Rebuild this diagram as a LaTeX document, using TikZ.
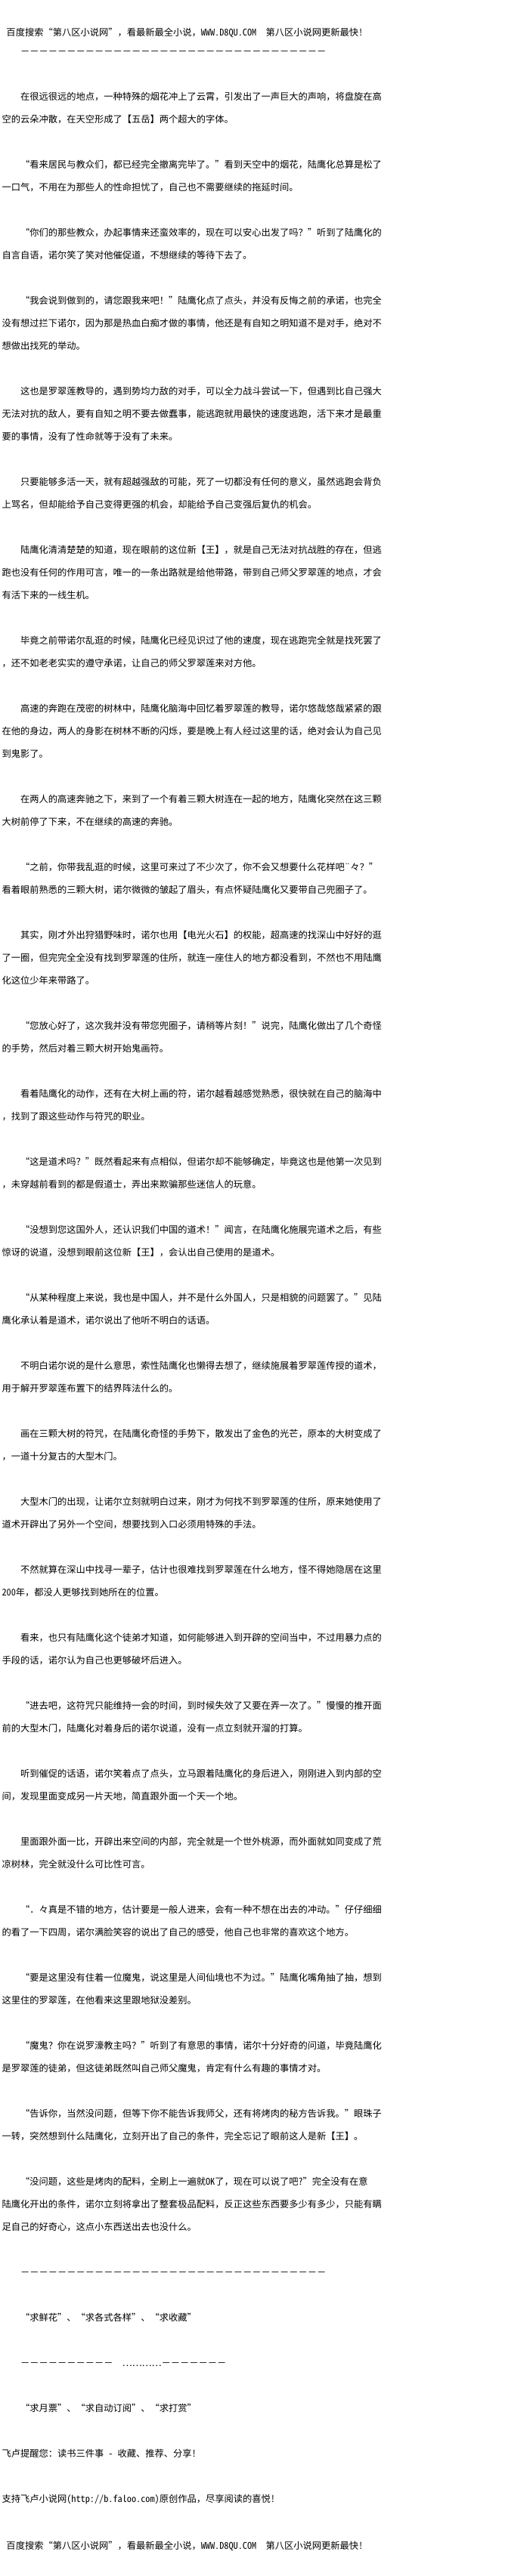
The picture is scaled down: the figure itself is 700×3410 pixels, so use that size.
\documentclass[tikz,border=0pt]{standalone}
\usepackage{fontspec}
\setmainfont{Noto Sans CJK SC}[RawFeature=+fwid]
\newfontfamily\hwfont{Noto Sans CJK SC}[RawFeature=+hwid]
\newcommand{\hw}[1]{{\hwfont #1}}
\tikzset{every picture/.style={line width=0.75pt}}
\tikzset{txt/.style={anchor=base west, inner sep=0pt, font=\fontsize{9.19}{9.19}\selectfont}}

\begin{document}
\begin{tikzpicture}[x=0.75pt,y=0.75pt,yscale=-1,xscale=1]
	%set diagram to 700 x 3410
	\useasboundingbox (0,0) rectangle (700,3410);
	\fill [white] (0,0) rectangle (700,3410);

	% Text Node
	\draw (8,47.7) node [txt] (hdtop) {百度搜索“第八区小说网”，看最新最全小说，\hw{WWW.D8QU.COM}　第八区小说网更新最快\hw{!}};
	% Text Node
	\draw (2,72) node [txt] (dshtop) {　　－－－－－－－－－－－－－－－－－－－－－－－－－－－－－－－－－};

	% Text Node
	\draw (2,132.7) node [txt] (p1a) {　　在很远很远的地点，一种特殊的烟花冲上了云霄，引发出了一声巨大的声响，将盘旋在高};
	% Text Node
	\draw (2,162.7) node [txt] (p1b) {空的云朵冲散，在天空形成了【五岳】两个超大的字体。};
	% Text Node
	\draw (2,222.7) node [txt] (p2a) {　　“看来居民与教众们，都已经完全撤离完毕了。”看到天空中的烟花，陆鹰化总算是松了};
	% Text Node
	\draw (2,252.7) node [txt] (p2b) {一口气，不用在为那些人的性命担忧了，自己也不需要继续的拖延时间。};
	% Text Node
	\draw (2,312.7) node [txt] (p3a) {　　“你们的那些教众，办起事情来还蛮效率的，现在可以安心出发了吗？”听到了陆鹰化的};
	% Text Node
	\draw (2,342.7) node [txt] (p3b) {自言自语，诺尔笑了笑对他催促道，不想继续的等待下去了。};
	% Text Node
	\draw (2,402.7) node [txt] (p4a) {　　“我会说到做到的，请您跟我来吧！”陆鹰化点了点头，并没有反悔之前的承诺，也完全};
	% Text Node
	\draw (2,432.7) node [txt] (p4b) {没有想过拦下诺尔，因为那是热血白痴才做的事情，他还是有自知之明知道不是对手，绝对不};
	% Text Node
	\draw (2,462.7) node [txt] (p4c) {想做出找死的举动。};
	% Text Node
	\draw (2,522.7) node [txt] (p5a) {　　这也是罗翠莲教导的，遇到势均力敌的对手，可以全力战斗尝试一下，但遇到比自己强大};
	% Text Node
	\draw (2,552.7) node [txt] (p5b) {无法对抗的敌人，要有自知之明不要去做蠢事，能逃跑就用最快的速度逃跑，活下来才是最重};
	% Text Node
	\draw (2,582.7) node [txt] (p5c) {要的事情，没有了性命就等于没有了未来。};
	% Text Node
	\draw (2,642.7) node [txt] (p6a) {　　只要能够多活一天，就有超越强敌的可能，死了一切都没有任何的意义，虽然逃跑会背负};
	% Text Node
	\draw (2,672.7) node [txt] (p6b) {上骂名，但却能给予自己变得更强的机会，却能给予自己变强后复仇的机会。};
	% Text Node
	\draw (2,732.7) node [txt] (p7a) {　　陆鹰化清清楚楚的知道，现在眼前的这位新【王】，就是自己无法对抗战胜的存在，但逃};
	% Text Node
	\draw (2,762.7) node [txt] (p7b) {跑也没有任何的作用可言，唯一的一条出路就是给他带路，带到自己师父罗翠莲的地点，才会};
	% Text Node
	\draw (2,792.7) node [txt] (p7c) {有活下来的一线生机。};
	% Text Node
	\draw (2,852.7) node [txt] (p8a) {　　毕竟之前带诺尔乱逛的时候，陆鹰化已经见识过了他的速度，现在逃跑完全就是找死罢了};
	% Text Node
	\draw (2,882.7) node [txt] (p8b) {，还不如老老实实的遵守承诺，让自己的师父罗翠莲来对方他。};
	% Text Node
	\draw (2,942.7) node [txt] (p9a) {　　高速的奔跑在茂密的树林中，陆鹰化脑海中回忆着罗翠莲的教导，诺尔悠哉悠哉紧紧的跟};
	% Text Node
	\draw (2,972.7) node [txt] (p9b) {在他的身边，两人的身影在树林不断的闪烁，要是晚上有人经过这里的话，绝对会认为自己见};
	% Text Node
	\draw (2,1002.7) node [txt] (p9c) {到鬼影了。};
	% Text Node
	\draw (2,1062.7) node [txt] (p10a) {　　在两人的高速奔驰之下，来到了一个有着三颗大树连在一起的地方，陆鹰化突然在这三颗};
	% Text Node
	\draw (2,1092.7) node [txt] (p10b) {大树前停了下来，不在继续的高速的奔驰。};
	% Text Node
	\draw (2,1152.7) node [txt] (p11a) {　　“之前，你带我乱逛的时候，这里可来过了不少次了，你不会又想要什么花样吧¨々？”};
	% Text Node
	\draw (2,1182.7) node [txt] (p11b) {看着眼前熟悉的三颗大树，诺尔微微的皱起了眉头，有点怀疑陆鹰化又要带自己兜圈子了。};
	% Text Node
	\draw (2,1242.7) node [txt] (p12a) {　　其实，刚才外出狩猎野味时，诺尔也用【电光火石】的权能，超高速的找深山中好好的逛};
	% Text Node
	\draw (2,1272.7) node [txt] (p12b) {了一圈，但完完全全没有找到罗翠莲的住所，就连一座住人的地方都没看到，不然也不用陆鹰};
	% Text Node
	\draw (2,1302.7) node [txt] (p12c) {化这位少年来带路了。};
	% Text Node
	\draw (2,1362.7) node [txt] (p13a) {　　“您放心好了，这次我并没有带您兜圈子，请稍等片刻！”说完，陆鹰化做出了几个奇怪};
	% Text Node
	\draw (2,1392.7) node [txt] (p13b) {的手势，然后对着三颗大树开始鬼画符。};
	% Text Node
	\draw (2,1452.7) node [txt] (p14a) {　　看着陆鹰化的动作，还有在大树上画的符，诺尔越看越感觉熟悉，很快就在自己的脑海中};
	% Text Node
	\draw (2,1482.7) node [txt] (p14b) {，找到了跟这些动作与符咒的职业。};
	% Text Node
	\draw (2,1542.7) node [txt] (p15a) {　　“这是道术吗？”既然看起来有点相似，但诺尔却不能够确定，毕竟这也是他第一次见到};
	% Text Node
	\draw (2,1572.7) node [txt] (p15b) {，未穿越前看到的都是假道士，弄出来欺骗那些迷信人的玩意。};
	% Text Node
	\draw (2,1632.7) node [txt] (p16a) {　　“没想到您这国外人，还认识我们中国的道术！”闻言，在陆鹰化施展完道术之后，有些};
	% Text Node
	\draw (2,1662.7) node [txt] (p16b) {惊讶的说道，没想到眼前这位新【王】，会认出自己使用的是道术。};
	% Text Node
	\draw (2,1722.7) node [txt] (p17a) {　　“从某种程度上来说，我也是中国人，并不是什么外国人，只是相貌的问题罢了。”见陆};
	% Text Node
	\draw (2,1752.7) node [txt] (p17b) {鹰化承认着是道术，诺尔说出了他听不明白的话语。};
	% Text Node
	\draw (2,1812.7) node [txt] (p18a) {　　不明白诺尔说的是什么意思，索性陆鹰化也懒得去想了，继续施展着罗翠莲传授的道术，};
	% Text Node
	\draw (2,1842.7) node [txt] (p18b) {用于解开罗翠莲布置下的结界阵法什么的。};
	% Text Node
	\draw (2,1902.7) node [txt] (p19a) {　　画在三颗大树的符咒，在陆鹰化奇怪的手势下，散发出了金色的光芒，原本的大树变成了};
	% Text Node
	\draw (2,1932.7) node [txt] (p19b) {，一道十分复古的大型木门。};
	% Text Node
	\draw (2,1992.7) node [txt] (p20a) {　　大型木门的出现，让诺尔立刻就明白过来，刚才为何找不到罗翠莲的住所，原来她使用了};
	% Text Node
	\draw (2,2022.7) node [txt] (p20b) {道术开辟出了另外一个空间，想要找到入口必须用特殊的手法。};
	% Text Node
	\draw (2,2082.7) node [txt] (p21a) {　　不然就算在深山中找寻一辈子，估计也很难找到罗翠莲在什么地方，怪不得她隐居在这里};
	% Text Node
	\draw (2,2112.7) node [txt] (p21b) {\hw{200}年，都没人更够找到她所在的位置。};
	% Text Node
	\draw (2,2172.7) node [txt] (p22a) {　　看来，也只有陆鹰化这个徒弟才知道，如何能够进入到开辟的空间当中，不过用暴力点的};
	% Text Node
	\draw (2,2202.7) node [txt] (p22b) {手段的话，诺尔认为自己也更够破坏后进入。};
	% Text Node
	\draw (2,2262.7) node [txt] (p23a) {　　“进去吧，这符咒只能维持一会的时间，到时候失效了又要在弄一次了。”慢慢的推开面};
	% Text Node
	\draw (2,2292.7) node [txt] (p23b) {前的大型木门，陆鹰化对着身后的诺尔说道，没有一点立刻就开溜的打算。};
	% Text Node
	\draw (2,2352.7) node [txt] (p24a) {　　听到催促的话语，诺尔笑着点了点头，立马跟着陆鹰化的身后进入，刚刚进入到内部的空};
	% Text Node
	\draw (2,2382.7) node [txt] (p24b) {间，发现里面变成另一片天地，简直跟外面一个天一个地。};
	% Text Node
	\draw (2,2442.7) node [txt] (p25a) {　　里面跟外面一比，开辟出来空间的内部，完全就是一个世外桃源，而外面就如同变成了荒};
	% Text Node
	\draw (2,2472.7) node [txt] (p25b) {凉树林，完全就没什么可比性可言。};
	% Text Node
	\draw (2,2532.7) node [txt] (p26a) {　　“．々真是不错的地方，估计要是一般人进来，会有一种不想在出去的冲动。”仔仔细细};
	% Text Node
	\draw (2,2562.7) node [txt] (p26b) {的看了一下四周，诺尔满脸笑容的说出了自己的感受，他自己也非常的喜欢这个地方。};
	% Text Node
	\draw (2,2622.7) node [txt] (p27a) {　　“要是这里没有住着一位魔鬼，说这里是人间仙境也不为过。”陆鹰化嘴角抽了抽，想到};
	% Text Node
	\draw (2,2652.7) node [txt] (p27b) {这里住的罗翠莲，在他看来这里跟地狱没差别。};
	% Text Node
	\draw (2,2712.7) node [txt] (p28a) {　　“魔鬼？你在说罗濠教主吗？”听到了有意思的事情，诺尔十分好奇的问道，毕竟陆鹰化};
	% Text Node
	\draw (2,2742.7) node [txt] (p28b) {是罗翠莲的徒弟，但这徒弟既然叫自己师父魔鬼，肯定有什么有趣的事情才对。};
	% Text Node
	\draw (2,2802.7) node [txt] (p29a) {　　“告诉你，当然没问题，但等下你不能告诉我师父，还有将烤肉的秘方告诉我。”眼珠子};
	% Text Node
	\draw (2,2832.7) node [txt] (p29b) {一转，突然想到什么陆鹰化，立刻开出了自己的条件，完全忘记了眼前这人是新【王】。};
	% Text Node
	\draw (2,2892.7) node [txt] (p30a) {　　“没问题，这些是烤肉的配料，全刷上一遍就\hw{OK}了，现在可以说了吧\hw{?}”完全没有在意};
	% Text Node
	\draw (2,2922.7) node [txt] (p30b) {陆鹰化开出的条件，诺尔立刻将拿出了整套极品配料，反正这些东西要多少有多少，只能有瞒};
	% Text Node
	\draw (2,2952.7) node [txt] (p30c) {足自己的好奇心，这点小东西送出去也没什么。};

	% Text Node
	\draw (2,3012) node [txt] (dshmid) {　　－－－－－－－－－－－－－－－－－－－－－－－－－－－－－－－－－};
	% Text Node
	\draw (2,3072.7) node [txt] (ask1) {　　“求鲜花”、“求各式各样”、“求收藏”};
	% Text Node
	\draw (2,3132) node [txt] (dshlow) {　　－－－－－－－－－－　…………－－－－－－－};
	% Text Node
	\draw (2,3192.7) node [txt] (ask2) {　　“求月票”、“求自动订阅”、“求打赏”};
	% Text Node
	\draw (2,3252.7) node [txt] (tip) {飞卢提醒您：读书三件事\hw{ - }收藏、推荐、分享\hw{!}};
	% Text Node
	\draw (2,3312.7) node [txt] (sup) {支持飞卢小说网\hw{(http://b.faloo.com)}原创作品，尽享阅读的喜悦\hw{!}};
	% Text Node
	\draw (8,3374) node [txt] (hdbot) {百度搜索“第八区小说网”，看最新最全小说，\hw{WWW.D8QU.COM}　第八区小说网更新最快\hw{!}};

\end{tikzpicture}
\end{document}
